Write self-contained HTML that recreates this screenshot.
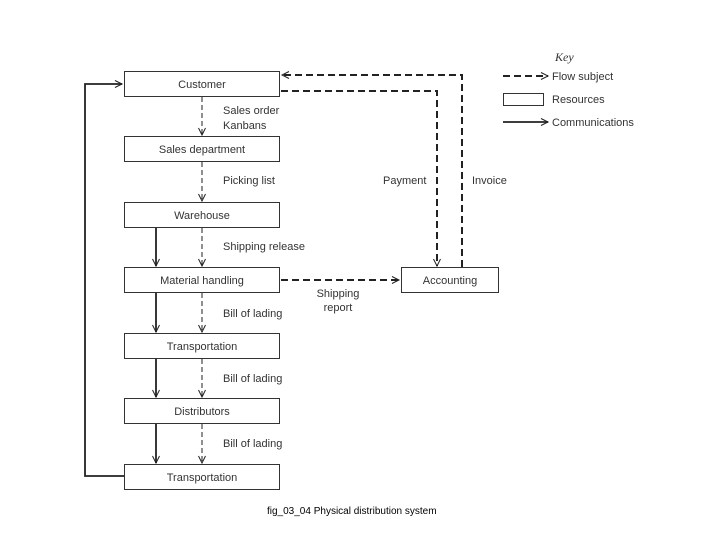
<!DOCTYPE html>
<html><head><meta charset="utf-8"><style>
html,body{margin:0;padding:0;background:#fff;}
svg{display:block;}
text{font-family:"Liberation Sans",sans-serif;font-size:11px;fill:#333;}
</style></head><body>
<svg width="720" height="540" viewBox="0 0 720 540" xmlns="http://www.w3.org/2000/svg">
<defs>
<marker id="a" markerWidth="10" markerHeight="10" refX="8" refY="5" orient="auto" markerUnits="userSpaceOnUse">
<path d="M1,1.5 L8,5 L1,8.5" fill="none" stroke="#222" stroke-width="1"/>
</marker>
</defs>
<g fill="#fff" stroke="#333" stroke-width="1">
<rect x="124.5" y="71.5" width="155" height="25"/>
<rect x="124.5" y="136.5" width="155" height="25"/>
<rect x="124.5" y="202.5" width="155" height="25"/>
<rect x="124.5" y="267.5" width="155" height="25"/>
<rect x="124.5" y="333.5" width="155" height="25"/>
<rect x="124.5" y="398.5" width="155" height="25"/>
<rect x="124.5" y="464.5" width="155" height="25"/>
<rect x="401.5" y="267.5" width="97" height="25"/>
<rect x="503.5" y="93.5" width="40" height="12"/>
</g>
<g text-anchor="middle">
<text x="202" y="88">Customer</text>
<text x="202" y="153">Sales department</text>
<text x="202" y="219">Warehouse</text>
<text x="202" y="284">Material handling</text>
<text x="202" y="350">Transportation</text>
<text x="202" y="415">Distributors</text>
<text x="202" y="481">Transportation</text>
<text x="450" y="284">Accounting</text>
<text x="338" y="297">Shipping</text>
<text x="338" y="311">report</text>
</g>
<g>
<text x="223" y="114">Sales order</text>
<text x="223" y="129">Kanbans</text>
<text x="223" y="184">Picking list</text>
<text x="223" y="250">Shipping release</text>
<text x="223" y="317">Bill of lading</text>
<text x="223" y="382">Bill of lading</text>
<text x="223" y="447">Bill of lading</text>
<text x="383" y="184">Payment</text>
<text x="472" y="184">Invoice</text>
<text x="555" y="61" style="font-family:'Liberation Serif',serif;font-style:italic;font-size:12px">Key</text>
<text x="552" y="80">Flow subject</text>
<text x="552" y="103">Resources</text>
<text x="552" y="126">Communications</text>
<text x="267" y="514" style="font-size:10px;fill:#000">fig_03_04 Physical distribution system</text>
</g>
<g fill="none" stroke="#222" stroke-width="1" stroke-dasharray="5,3">
<line x1="202" y1="97" x2="202" y2="135" marker-end="url(#a)"/>
<line x1="202" y1="162" x2="202" y2="201" marker-end="url(#a)"/>
<line x1="202" y1="228" x2="202" y2="266" marker-end="url(#a)"/>
<line x1="202" y1="293" x2="202" y2="332" marker-end="url(#a)"/>
<line x1="202" y1="359" x2="202" y2="397" marker-end="url(#a)"/>
<line x1="202" y1="424" x2="202" y2="463" marker-end="url(#a)"/>
</g>
<g fill="none" stroke="#222" stroke-width="2" stroke-dasharray="7,4">
<polyline points="462,267 462,75 282,75" marker-end="url(#a)"/>
<polyline points="281,91 437,91 437,266" marker-end="url(#a)"/>
<line x1="281" y1="280" x2="399" y2="280" marker-end="url(#a)"/>
<line x1="503" y1="76" x2="548" y2="76" marker-end="url(#a)"/>
</g>
<g fill="none" stroke="#222" stroke-width="1.8">
<line x1="156" y1="228" x2="156" y2="266" marker-end="url(#a)"/>
<line x1="156" y1="293" x2="156" y2="332" marker-end="url(#a)"/>
<line x1="156" y1="359" x2="156" y2="397" marker-end="url(#a)"/>
<line x1="156" y1="424" x2="156" y2="463" marker-end="url(#a)"/>
<polyline points="124,476 85,476 85,84 122,84" marker-end="url(#a)"/>
<line x1="503" y1="122" x2="548" y2="122" marker-end="url(#a)"/>
</g>
</svg>
</body></html>
